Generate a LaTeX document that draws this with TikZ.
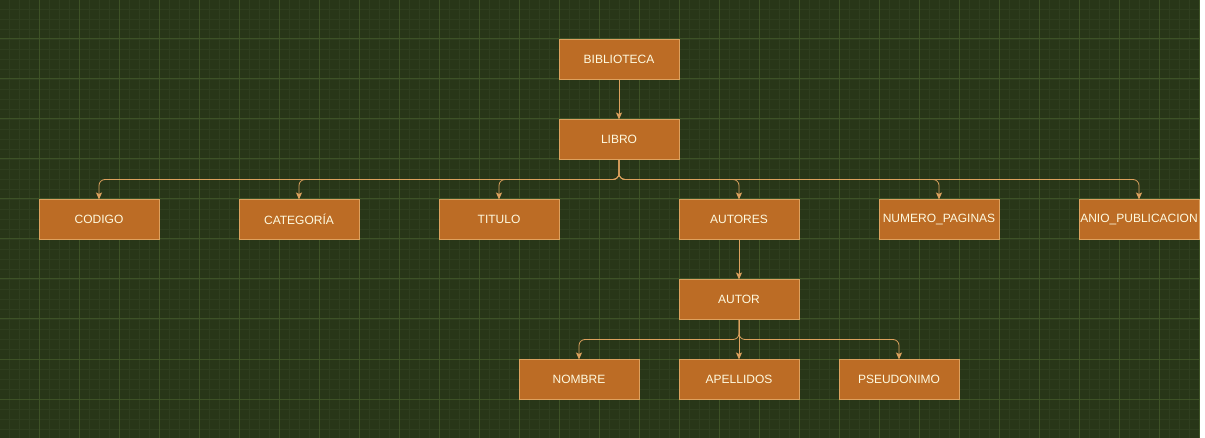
\documentclass[tikz,border=0pt]{standalone}
\usepackage{fontspec}
\setmainfont{Liberation Sans}
\usepackage{tikz}
\usetikzlibrary{calc,arrows.meta,positioning}
\definecolor{bgtree}{HTML}{283618}
\definecolor{gridmin}{HTML}{2F3E1F}
\definecolor{gridmaj}{HTML}{3E5227}
\definecolor{boxfill}{HTML}{BC6C25}
\definecolor{boxline}{HTML}{DDA15E}
\definecolor{boxtext}{HTML}{FEFAE0}
\tikzset{
  entity/.style={
    draw=boxline, fill=boxfill, line width=1pt,
    minimum width=120pt, minimum height=40pt,
    inner sep=0pt, outer sep=0pt,
    text=boxtext, font=\fontsize{12}{14}\selectfont
  },
  conn/.style={
    draw=boxline, line width=0.8pt, rounded corners=6pt,
    -{Stealth[length=7pt,width=6pt,inset=1.5pt]}
  },
  gridminor/.style={draw=gridmin, line width=0.6pt},
  gridmajor/.style={draw=gridmaj, line width=1pt}
}

\begin{document}
\begin{tikzpicture}[x=1pt,y=-1pt]
\useasboundingbox (0,0) rectangle (1205,438);
\fill[bgtree] (0,0) rectangle (1200,438);
\fill[white] (1200,0) rectangle (1205,438);
\foreach \g in {9,19,...,1199} \draw[gridminor] (\g,0) -- (\g,438);
\foreach \g in {9,19,...,438} \draw[gridminor] (0,\g) -- (1200,\g);
\foreach \g in {39,79,...,1199} \draw[gridmajor] (\g,0) -- (\g,438);
\foreach \g in {39,79,...,438} \draw[gridmajor] (0,\g) -- (1200,\g);

\node[entity] (biblioteca) at (619,59.5) {BIBLIOTECA};
\node[entity] (libro) at (619,139.5) {LIBRO};
\node[entity] (codigo) at (99,219.5) {CODIGO};
\node[entity] (categoria) at (299,219.5) {CATEGORÍA};
\node[entity] (titulo) at (499,219.5) {TITULO};
\node[entity] (autores) at (739,219.5) {AUTORES};
\node[entity] (numpag) at (939,219.5) {NUMERO\_PAGINAS};
\node[entity] (aniopub) at (1139,219.5) {ANIO\_PUBLICACION};
\node[entity] (autor) at (739,299.5) {AUTOR};
\node[entity] (nombre) at (579,379.5) {NOMBRE};
\node[entity] (apellidos) at (739,379.5) {APELLIDOS};
\node[entity] (pseudo) at (899,379.5) {PSEUDONIMO};

\coordinate (libro bus) at (619,179.5);
\coordinate (autor bus) at (739,339.5);

\draw[conn] (biblioteca) -- (libro);
\foreach \c in {codigo,categoria,titulo,autores,numpag,aniopub}
  \draw[conn] (libro.south) -- (libro bus) -| (\c.north);
\draw[conn] (autores) -- (autor);
\draw[conn] (autor.south) -- (autor bus) -| (nombre.north);
\draw[conn] (autor) -- (apellidos);
\draw[conn] (autor.south) -- (autor bus) -| (pseudo.north);
\end{tikzpicture}
\end{document}
